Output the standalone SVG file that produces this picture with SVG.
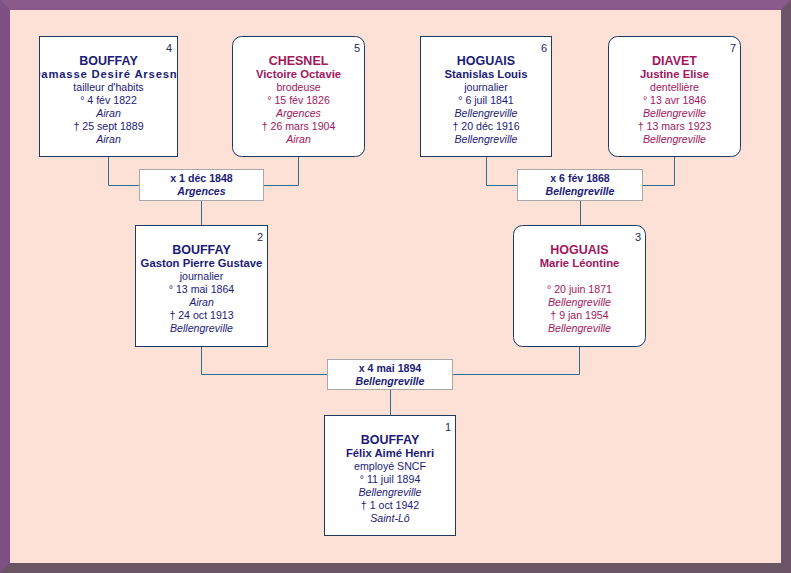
<svg xmlns="http://www.w3.org/2000/svg" width="791" height="573" viewBox="0 0 791 573">
<style>
text{font-family:"Liberation Sans",Arial,sans-serif;text-anchor:middle}
.box{fill:#ffffff;stroke:#1d3a63;stroke-width:1}
.mbox{fill:#ffffff;stroke:#a8a8a8;stroke-width:1}
.num{font-size:11px;fill:#1a2a5a;text-anchor:end}
.sn{font-size:12.5px;font-weight:bold}
.gn{font-size:11.3px;font-weight:bold}
.ln{font-size:10.6px}
.pl{font-size:10.6px;font-style:italic}
.m{fill:#1b1b78}
.f{fill:#a3165c}
.mt{font-size:10.6px;font-weight:bold;fill:#1b1b78}
.mp{font-size:10.6px;font-weight:bold;font-style:italic;fill:#1b1b78}
.conn{fill:none;stroke:#2f6d92;stroke-width:1}
</style>
<defs>
<clipPath id="c4"><rect x="40" y="37" width="137" height="118"/></clipPath>
</defs>
<g id="frame">
<rect x="0" y="0" width="791" height="573" fill="#6d5369"/>
<polygon points="0,0 791,0 781,10 10,10" fill="#8a5b8a"/>
<polygon points="0,0 10,10 10,563 0,573" fill="#7d4f83"/>
<polygon points="0,573 10,563 781,563 791,573" fill="#6a5564"/>
<polygon points="791,0 791,573 781,563 781,10" fill="#6e5469"/>
<rect x="10" y="10" width="771" height="553" fill="#fde1d7"/>
</g>
<g id="connectors">
<polyline class="conn" points="108.5,156 108.5,185.5 139,185.5"/>
<polyline class="conn" points="298.5,156 298.5,185.5 263,185.5"/>
<polyline class="conn" points="201.5,200 201.5,225"/>
<polyline class="conn" points="486.5,156 486.5,185.5 517,185.5"/>
<polyline class="conn" points="674.5,156 674.5,185.5 642,185.5"/>
<polyline class="conn" points="580.5,200 580.5,225"/>
<polyline class="conn" points="201.5,346 201.5,374.5 327,374.5"/>
<polyline class="conn" points="579.5,346 579.5,374.5 452,374.5"/>
<polyline class="conn" points="390.5,389 390.5,415"/>
</g>
<g id="p4">
<rect class="box" x="39.5" y="36.5" width="138" height="120"/>
<text class="num" x="172" y="52">4</text>
<text class="sn m" x="108.5" y="65">BOUFFAY</text>
<text class="gn m" x="108.5" y="78" clip-path="url(#c4)" style="letter-spacing:0.8px">Damasse Desiré Arsesne</text>
<text class="ln m" x="108.5" y="91">tailleur d'habits</text>
<text class="ln m" x="108.5" y="104">° 4 fév 1822</text>
<text class="pl m" x="108.5" y="117">Airan</text>
<text class="ln m" x="108.5" y="130">† 25 sept 1889</text>
<text class="pl m" x="108.5" y="143">Airan</text>
</g>
<g id="p5">
<rect class="box" x="232.5" y="36.5" width="132" height="120" rx="9"/>
<text class="num" x="360" y="52">5</text>
<text class="sn f" x="298.5" y="65">CHESNEL</text>
<text class="gn f" x="298.5" y="78">Victoire Octavie</text>
<text class="ln f" x="298.5" y="91">brodeuse</text>
<text class="ln f" x="298.5" y="104">° 15 fév 1826</text>
<text class="pl f" x="298.5" y="117">Argences</text>
<text class="ln f" x="298.5" y="130">† 26 mars 1904</text>
<text class="pl f" x="298.5" y="143">Airan</text>
</g>
<g id="p6">
<rect class="box" x="420.5" y="36.5" width="131" height="120"/>
<text class="num" x="547" y="52">6</text>
<text class="sn m" x="486" y="65">HOGUAIS</text>
<text class="gn m" x="486" y="78">Stanislas Louis</text>
<text class="ln m" x="486" y="91">journalier</text>
<text class="ln m" x="486" y="104">° 6 juil 1841</text>
<text class="pl m" x="486" y="117">Bellengreville</text>
<text class="ln m" x="486" y="130">† 20 déc 1916</text>
<text class="pl m" x="486" y="143">Bellengreville</text>
</g>
<g id="p7">
<rect class="box" x="608.5" y="36.5" width="132" height="120" rx="9"/>
<text class="num" x="736" y="52">7</text>
<text class="sn f" x="674.5" y="65">DIAVET</text>
<text class="gn f" x="674.5" y="78">Justine Elise</text>
<text class="ln f" x="674.5" y="91">dentellière</text>
<text class="ln f" x="674.5" y="104">° 13 avr 1846</text>
<text class="pl f" x="674.5" y="117">Bellengreville</text>
<text class="ln f" x="674.5" y="130">† 13 mars 1923</text>
<text class="pl f" x="674.5" y="143">Bellengreville</text>
</g>
<g id="m1">
<rect class="mbox" x="139.5" y="169.5" width="124" height="31"/>
<text class="mt" x="201.5" y="182">x 1 déc 1848</text>
<text class="mp" x="201.5" y="195">Argences</text>
</g>
<g id="m2">
<rect class="mbox" x="517.5" y="169.5" width="125" height="31"/>
<text class="mt" x="580" y="182">x 6 fév 1868</text>
<text class="mp" x="580" y="195">Bellengreville</text>
</g>
<g id="p2">
<rect class="box" x="135.5" y="225.5" width="132" height="121"/>
<text class="num" x="263" y="241">2</text>
<text class="sn m" x="201.5" y="254">BOUFFAY</text>
<text class="gn m" x="201.5" y="267">Gaston Pierre Gustave</text>
<text class="ln m" x="201.5" y="280">journalier</text>
<text class="ln m" x="201.5" y="293">° 13 mai 1864</text>
<text class="pl m" x="201.5" y="306">Airan</text>
<text class="ln m" x="201.5" y="319">† 24 oct 1913</text>
<text class="pl m" x="201.5" y="332">Bellengreville</text>
</g>
<g id="p3">
<rect class="box" x="513.5" y="225.5" width="132" height="121" rx="9"/>
<text class="num" x="641" y="241">3</text>
<text class="sn f" x="579.5" y="254">HOGUAIS</text>
<text class="gn f" x="579.5" y="267">Marie Léontine</text>
<text class="ln f" x="579.5" y="293">° 20 juin 1871</text>
<text class="pl f" x="579.5" y="306">Bellengreville</text>
<text class="ln f" x="579.5" y="319">† 9 jan 1954</text>
<text class="pl f" x="579.5" y="332">Bellengreville</text>
</g>
<g id="m3">
<rect class="mbox" x="327.5" y="359.5" width="125" height="30"/>
<text class="mt" x="390" y="372">x 4 mai 1894</text>
<text class="mp" x="390" y="385">Bellengreville</text>
</g>
<g id="p1">
<rect class="box" x="324.5" y="415.5" width="131" height="120"/>
<text class="num" x="451" y="431">1</text>
<text class="sn m" x="390" y="444">BOUFFAY</text>
<text class="gn m" x="390" y="457">Félix Aimé Henri</text>
<text class="ln m" x="390" y="470">employé SNCF</text>
<text class="ln m" x="390" y="483">° 11 juil 1894</text>
<text class="pl m" x="390" y="496">Bellengreville</text>
<text class="ln m" x="390" y="509">† 1 oct 1942</text>
<text class="pl m" x="390" y="522">Saint-Lô</text>
</g>
</svg>
